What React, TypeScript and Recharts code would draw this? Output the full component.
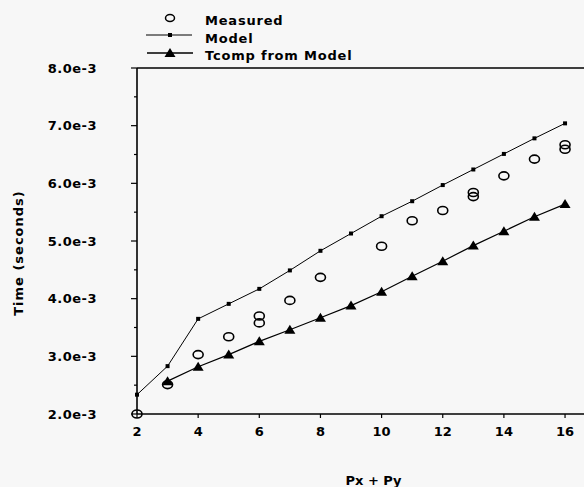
import React from 'react';
import { ComposedChart, Line, Scatter, XAxis, YAxis, ReferenceLine, Legend, Label } from 'recharts';

// Processor count sum (Px + Py)
const pxPy = [2, 3, 4, 5, 6, 7, 8, 9, 10, 11, 12, 13, 14, 15, 16];
// Model prediction (seconds)
const modelTime = [0.002335, 0.00283, 0.00365, 0.00391, 0.00417, 0.00449, 0.00483, 0.00513, 0.00543, 0.00569, 0.00597, 0.00624, 0.00651, 0.00678, 0.00704];
// Computation time from the model (seconds)
const tcompPxPy = [3, 4, 5, 6, 7, 8, 9, 10, 11, 12, 13, 14, 15, 16];
const tcompTime = [0.00257, 0.00282, 0.00303, 0.00326, 0.00346, 0.00367, 0.00388, 0.00412, 0.00439, 0.00465, 0.00492, 0.00517, 0.00542, 0.00564];
// Measured runs (some configurations measured twice)
const measuredPxPy = [2, 3, 4, 5, 6, 6, 7, 8, 10, 11, 12, 13, 13, 14, 15, 16, 16];
const measuredTime = [0.002, 0.00251, 0.00303, 0.00334, 0.0037, 0.00358, 0.00397, 0.00437, 0.00491, 0.00535, 0.00553, 0.00584, 0.00577, 0.00613, 0.00642, 0.00667, 0.00659];

const xTicks = [2, 4, 6, 8, 10, 12, 14, 16];
const yTicks = [0.002, 0.0025, 0.003, 0.0035, 0.004, 0.0045, 0.005, 0.0055, 0.006, 0.0065, 0.007, 0.0075, 0.008];

const modelData = pxPy.map((x, i) => ({ x, y: modelTime[i] }));
const tcompData = tcompPxPy.map((x, i) => ({ x, y: tcompTime[i] }));
const measuredData = measuredPxPy.map((x, i) => ({ x, y: measuredTime[i] }));

const FONT = '"DejaVu Sans", sans-serif';
const INK = '#000';
const Y_TICK_SIZE = 6;
const Y_TICK_MARGIN = 34;

const YTick = (props: any) => {
  const { x, y, payload } = props;
  const v: number = payload.value;
  const major = Math.abs(v * 1000 - Math.round(v * 1000)) < 1e-6;
  const axisX = x + Y_TICK_SIZE + Y_TICK_MARGIN;
  return (
    <g>
      <line x1={axisX} x2={axisX - (major ? 6 : 3)} y1={y} y2={y} stroke={INK} strokeWidth={1.2} />
      {major && (
        <text x={x} y={y} dy="0.36em" textAnchor="end" fontFamily={FONT} fontWeight="bold" fontSize={13} letterSpacing={0.5} fill={INK}>
          {v.toExponential(1)}
        </text>
      )}
    </g>
  );
};

const ModelDot = (p: any) => (
  <rect key={`m-${p.index}`} x={p.cx - 2} y={p.cy - 2} width={4} height={4} fill={INK} />
);

const TriangleDot = (p: any) => (
  <polygon key={`t-${p.index}`} points={`${p.cx},${p.cy - 5} ${p.cx - 5.5},${p.cy + 4} ${p.cx + 5.5},${p.cy + 4}`} fill={INK} />
);

const OpenCircle = (p: any) => (
  <ellipse cx={p.cx} cy={p.cy} rx={5} ry={4} fill="none" stroke={INK} strokeWidth={1.6} />
);

const LegendBox = () => (
  <svg width={230} height={62} style={{ display: 'block' }}>
    <ellipse cx={30} cy={13} rx={4.5} ry={3.5} fill="none" stroke={INK} strokeWidth={1.5} />
    <text x={65} y={15} dy="0.36em" fontFamily={FONT} fontWeight="bold" fontSize={13} letterSpacing={0.8} fill={INK}>Measured</text>
    <line x1={6} x2={52} y1={30} y2={30} stroke={INK} strokeWidth={1} />
    <rect x={28} y={28} width={4} height={4} fill={INK} />
    <text x={65} y={33} dy="0.36em" fontFamily={FONT} fontWeight="bold" fontSize={13} letterSpacing={0.8} fill={INK}>Model</text>
    <line x1={7} x2={53} y1={48} y2={48} stroke={INK} strokeWidth={1.6} />
    <polygon points="30,43 24.5,52 35.5,52" fill={INK} />
    <text x={65} y={50} dy="0.36em" fontFamily={FONT} fontWeight="bold" fontSize={13} letterSpacing={0.8} fill={INK}>Tcomp from Model</text>
  </svg>
);

export default function App() {
  return (
    <div style={{ position: 'absolute', left: 0, top: 0, width: 584, height: 487, background: '#f7f7f7', overflow: 'hidden' }}>
      <ComposedChart width={584} height={487} margin={{ top: 68, right: 0, bottom: 33, left: 0 }}>
        <XAxis
          type="number"
          dataKey="x"
          domain={[2, 16.62]}
          ticks={xTicks}
          tickSize={4}
          tickMargin={9}
          axisLine={{ stroke: INK, strokeWidth: 1.6 }}
          tickLine={{ stroke: INK, strokeWidth: 1.2 }}
          tick={{ fill: INK, fontFamily: FONT, fontWeight: 'bold', fontSize: 13 }}
          height={40}
        >
          <Label
            content={(lp: any) => {
              const vb = lp.viewBox;
              return (
                <text x={vb.x + vb.width / 2 + 13} y={vb.y + 66} dy="0.36em" textAnchor="middle" fontFamily={FONT} fontWeight="bold" fontSize={13} fill={INK}>
                  Px + Py
                </text>
              );
            }}
          />
        </XAxis>
        <YAxis
          type="number"
          dataKey="y"
          domain={[0.002, 0.008]}
          ticks={yTicks}
          interval={0}
          tickSize={Y_TICK_SIZE}
          tickMargin={Y_TICK_MARGIN}
          tickLine={false}
          tick={<YTick />}
          axisLine={{ stroke: INK, strokeWidth: 1.6 }}
          width={137}
        >
          <Label
            content={(lp: any) => {
              const vb = lp.viewBox;
              const cx = vb.x + 18;
              const cy = vb.y + vb.height / 2 + 12;
              return (
                <text x={cx} y={cy} dy="0.36em" textAnchor="middle" transform={`rotate(-90, ${cx}, ${cy})`} fontFamily={FONT} fontWeight="bold" fontSize={13} letterSpacing={1} fill={INK}>
                  Time (seconds)
                </text>
              );
            }}
          />
        </YAxis>
        <ReferenceLine y={0.008} stroke={INK} strokeWidth={1.6} />
        <Line data={modelData} dataKey="y" stroke={INK} strokeWidth={1} dot={ModelDot} activeDot={false} isAnimationActive={false} />
        <Line data={tcompData} dataKey="y" stroke={INK} strokeWidth={1.2} dot={TriangleDot} activeDot={false} isAnimationActive={false} />
        <Scatter data={measuredData} dataKey="y" shape={OpenCircle} isAnimationActive={false} />
        <Legend
          layout="vertical"
          align="center"
          verticalAlign="middle"
          content={() => <LegendBox />}
          wrapperStyle={{ top: 5, left: 140, width: 230 }}
        />
      </ComposedChart>
    </div>
  );
}
